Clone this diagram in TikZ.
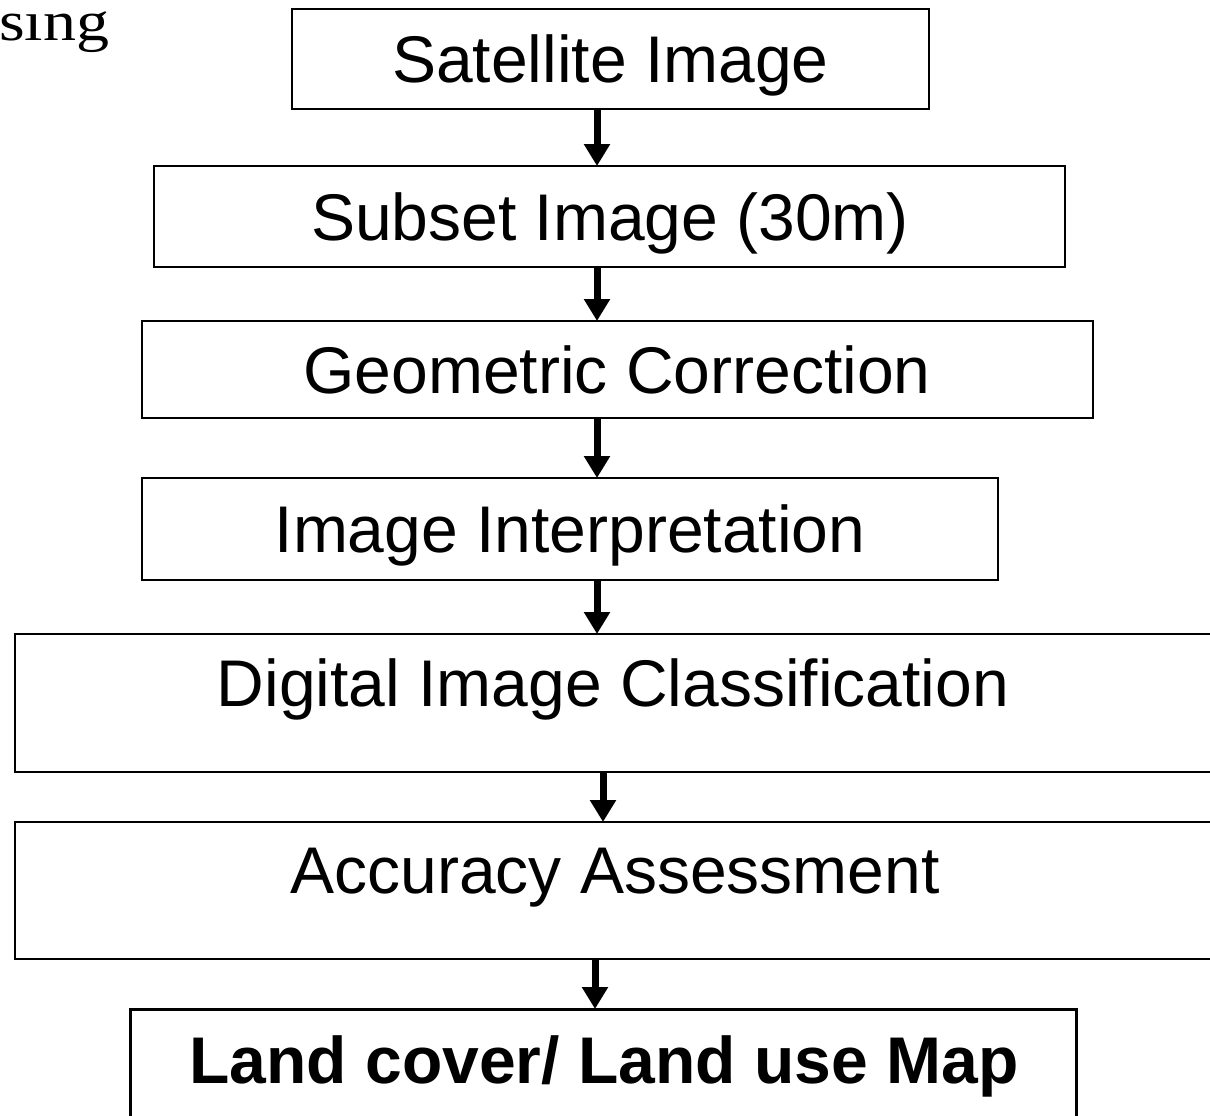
\documentclass[tikz,border=0pt]{standalone}
\usepackage{fontspec}
\setmainfont{Liberation Sans}
\newfontfamily\serifface{Liberation Serif}
\usetikzlibrary{arrows.meta}
\begin{document}
\begin{tikzpicture}[x=1pt,y=-1pt,
  box/.style={draw=black,line width=2pt,rectangle,inner sep=0pt,outer sep=0pt},
  lbl/.style={inner sep=0pt,anchor=base,font=\fontsize{66}{70}\selectfont},
  arr/.style={line width=7pt,-{Triangle[width=25pt,length=22pt]}}]
\useasboundingbox (0,0) rectangle (1210,1116);
\begin{scope}
\clip (-5,11) rectangle (200,80);
\node[inner sep=0pt,anchor=base west,font=\serifface\fontsize{66}{70}\selectfont] (sing) at (-1,41) {\scalebox{1}[0.85]{sing}};
\end{scope}
\node[box,minimum width=637pt,minimum height=100pt] (b1) at (610.5,59) {};
\node[box,minimum width=911pt,minimum height=101pt] (b2) at (609.5,216.5) {};
\node[box,minimum width=951pt,minimum height=97pt] (b3) at (617.5,369.5) {};
\node[box,minimum width=856pt,minimum height=102pt] (b4) at (570,529) {};
\node[box,minimum width=1215pt,minimum height=138pt] (b5) at (622.5,703) {};
\node[box,minimum width=1215pt,minimum height=137pt] (b6) at (622.5,890.5) {};
\node[box,line width=3pt,minimum width=946pt,minimum height=131pt] (b7) at (603,1074.5) {};
\node[lbl] (t1) at (610.5,82) {Satellite Image};
\node[lbl] (t2) at (610,240) {Subset Image (30m)};
\node[lbl] (t3) at (617,393) {Geometric Correction};
\node[lbl] (t4) at (570,552) {Image Interpretation};
\node[lbl] (t5) at (613,706) {Digital Image Classification};
\node[lbl] (t6) at (615,893) {Accuracy Assessment};
\node[lbl,font=\bfseries\fontsize{66}{70}\selectfont] (t7) at (604,1083) {Land cover/ Land use Map};
\draw[arr] (b1.south -| 597,0) -- (b2.north -| 597,0);
\draw[arr] (b2.south -| 597,0) -- (b3.north -| 597,0);
\draw[arr] (b3.south -| 597,0) -- (b4.north -| 597,0);
\draw[arr] (b4.south -| 597,0) -- (b5.north -| 597,0);
\draw[arr] (b5.south -| 603,0) -- (b6.north -| 603,0);
\draw[arr] (b6.south -| 595,0) -- (b7.north -| 595,0);
\end{tikzpicture}
\end{document}
